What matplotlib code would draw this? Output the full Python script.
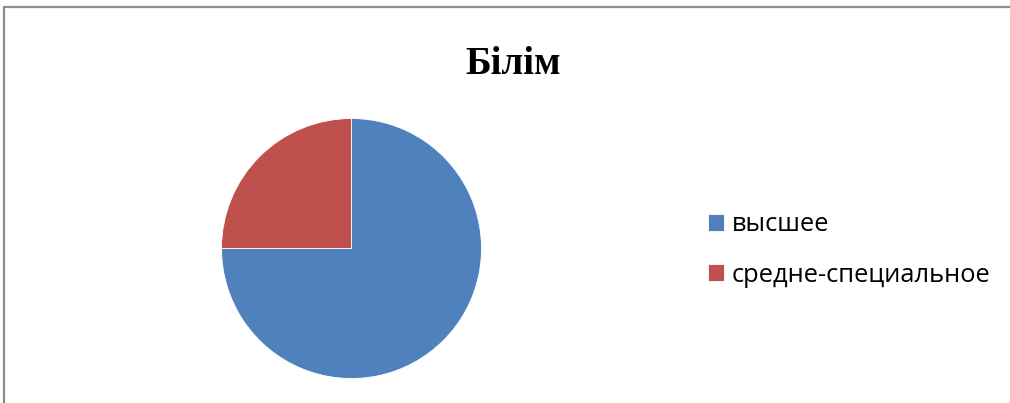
import matplotlib.pyplot as plt
from matplotlib.lines import Line2D

# data
labels = ['высшее', 'средне-специальное']
values = [75, 25]
colors = ['#4F81BD', '#C0504D']
title = 'Білім'

fig = plt.figure(figsize=(10.1, 4.03), dpi=100)

# chart frame (only top/left edges show in the crop)
fx, fy = 4 / 1010, 1 - 6.5 / 403
fig.lines.append(Line2D([fx, fx, 1.01], [-0.01, fy, fy], transform=fig.transFigure,
                        color='#8c8c8c', linewidth=1.6))

# pie axes: centre (351.5, 248.5) px, radius 130 px
cx, cy, r = 351.5, 248.5, 130
ax = fig.add_axes([(cx - r) / 1010, (403 - cy - r) / 403, 2 * r / 1010, 2 * r / 403])
wedges, _ = ax.pie(values, colors=colors, startangle=90, counterclock=False,
                   radius=1, wedgeprops=dict(edgecolor='white', linewidth=0.6))
ax.set_xlim(-1, 1)
ax.set_ylim(-1, 1)
ax.axis('off')

fig.text(513 / 1010, 1 - 64 / 403, title, ha='center', va='center',
         fontsize=28, fontweight='bold', family='Liberation Serif')

leg = fig.legend(wedges, labels, loc='center left',
                 bbox_to_anchor=(708 / 1010, 1 - 250 / 403),
                 frameon=False, prop={'family': 'Open Sans', 'size': 18.4},
                 handlelength=0.62, handleheight=0.62, handletextpad=0.3,
                 labelspacing=0.98, borderpad=0, borderaxespad=0)

fig.savefig('out.png', dpi=100)
